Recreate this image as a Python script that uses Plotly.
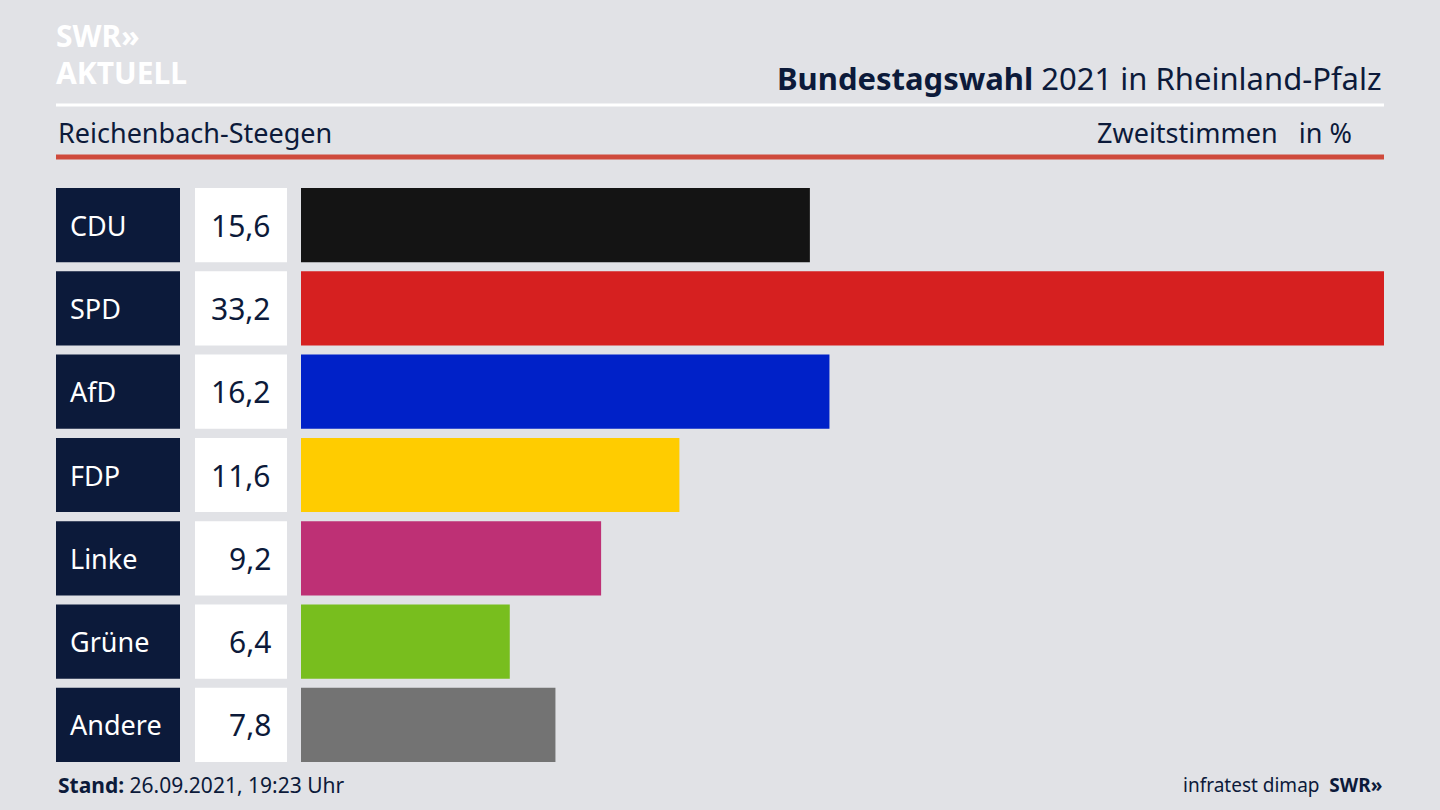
import plotly.graph_objects as go

parteien = ["CDU", "SPD", "AfD", "FDP", "Linke", "Grüne", "Andere"]
werte = [15.6, 33.2, 16.2, 11.6, 9.2, 6.4, 7.8]
farben = ["#141414", "#d62020", "#0021c8", "#ffcc00", "#be3075", "#78be1e", "#737373"]

W, H = 1440, 810
def px(x): return x / W
def py(y): return 1 - y / H

fig = go.Figure(go.Bar(
    x=werte, y=parteien, orientation="h",
    marker=dict(color=farben, line=dict(width=0)),
    hoverinfo="skip"))

shapes = []
annos = []
for i, (p, v) in enumerate(zip(parteien, werte)):
    # Parteikasten und Wertkasten
    shapes.append(dict(type="rect", xref="paper", yref="y", x0=px(56), x1=px(180),
                       y0=i - 0.445, y1=i + 0.445, fillcolor="#0c1a3a", line_width=0, layer="below"))
    shapes.append(dict(type="rect", xref="paper", yref="y", x0=px(195), x1=px(287),
                       y0=i - 0.445, y1=i + 0.445, fillcolor="white", line_width=0, layer="below"))
    annos.append(dict(xref="paper", yref="y", x=px(68), y=i, text=p, showarrow=False,
                      xanchor="left", yanchor="middle", font=dict(color="white", size=27)))
    annos.append(dict(xref="paper", yref="y", x=px(273), y=i,
                      text=f"{v:.1f}".replace(".", ","), showarrow=False,
                      xanchor="right", yanchor="middle", font=dict(color="#0c1a3a", size=30)))

shapes.append(dict(type="line", xref="paper", yref="paper", x0=px(56), x1=px(1384),
                   y0=py(105), y1=py(105), line=dict(color="white", width=3)))
shapes.append(dict(type="line", xref="paper", yref="paper", x0=px(56), x1=px(1384),
                   y0=py(157), y1=py(157), line=dict(color="#cf4a3c", width=5)))

navy = "#0c1a3a"
def txt(x, y, t, anchor, size, color=navy):
    return dict(xref="paper", yref="paper", x=px(x), y=py(y), text=t, showarrow=False,
                xanchor=anchor, yanchor="middle", font=dict(color=color, size=size))

annos += [
    txt(54, 36, "<b>SWR»</b>", "left", 30, "white"),
    txt(54, 72, "<b>AKTUELL</b>", "left", 30, "white"),
    txt(1384, 78, "<b>Bundestagswahl</b> 2021 in Rheinland-Pfalz", "right", 31),
    txt(56, 132, "Reichenbach-Steegen", "left", 27),
    txt(1354, 132, "Zweitstimmen&nbsp;&nbsp;&nbsp;in %", "right", 27),
    txt(56, 785, "<b>Stand:</b> 26.09.2021, 19:23 Uhr", "left", 21),
    txt(1384, 785, "infratest dimap  <b>SWR»</b>", "right", 19),
]

fig.update_layout(
    width=W, height=H, margin=dict(l=0, r=0, t=0, b=0),
    paper_bgcolor="#e1e2e6", plot_bgcolor="rgba(0,0,0,0)",
    font=dict(family="Noto Sans"),
    bargap=0.11, showlegend=False,
    xaxis=dict(domain=[px(301), px(1384)], range=[0, 33.2], visible=False, fixedrange=True),
    yaxis=dict(domain=[py(766.6), py(183.4)], autorange="reversed", visible=False, fixedrange=True),
    shapes=shapes, annotations=annos,
)

fig.write_html("out.html", config={"displayModeBar": False},
               post_script="document.body.style.margin='0';document.body.style.overflow='hidden';")
